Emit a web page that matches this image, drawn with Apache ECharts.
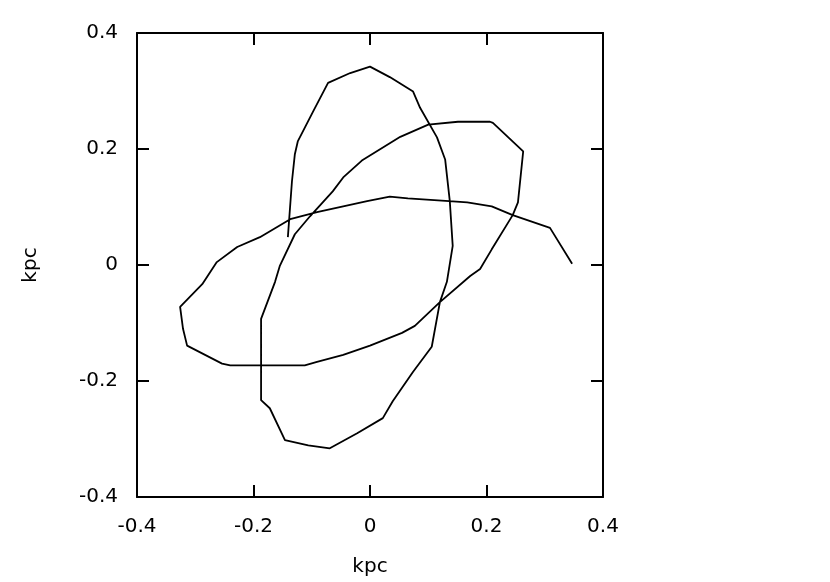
<!DOCTYPE html>
<html>
<head>
<meta charset="utf-8">
<script src="https://cdn.jsdelivr.net/npm/echarts@6/dist/echarts.min.js"></script>
<style>
  html, body { margin: 0; padding: 0; background: #fff; }
  #chart { width: 830px; height: 582px; }
</style>
</head>
<body>
<div id="chart"></div>
<script>
// orbit in kpc, traced along the path
const orbitX = [0.347, 0.309, 0.245, 0.209, 0.167, 0.136, 0.065, 0.034, -0.005, -0.046,
  -0.091, -0.137, -0.189, -0.228, -0.263, -0.288, -0.326, -0.321, -0.314, -0.254,
  -0.240, -0.112, -0.091, -0.046, 0.000, 0.055, 0.077, 0.120, 0.172, 0.189,
  0.209, 0.245, 0.254, 0.263, 0.211, 0.206, 0.151, 0.100, 0.052, -0.014,
  -0.046, -0.064, -0.103, -0.129, -0.155, -0.163, -0.187, -0.187, -0.172, -0.146,
  -0.106, -0.069, -0.022, 0.022, 0.039, 0.074, 0.106, 0.120, 0.132, 0.142,
  0.137, 0.129, 0.115, 0.086, 0.074, 0.034, 0.000, -0.034, -0.072, -0.098,
  -0.124, -0.129, -0.134, -0.141]
const orbitY = [0.002, 0.064, 0.086, 0.101, 0.108, 0.110, 0.115, 0.118, 0.110, 0.101,
  0.091, 0.079, 0.048, 0.031, 0.005, -0.033, -0.072, -0.110, -0.139, -0.170,
  -0.173, -0.173, -0.167, -0.155, -0.139, -0.117, -0.105, -0.064, -0.019, -0.007,
  0.027, 0.086, 0.108, 0.196, 0.245, 0.247, 0.247, 0.242, 0.221, 0.180,
  0.151, 0.127, 0.084, 0.053, -0.002, -0.029, -0.093, -0.233, -0.247, -0.302,
  -0.311, -0.316, -0.290, -0.264, -0.235, -0.184, -0.141, -0.064, -0.029, 0.033,
  0.110, 0.182, 0.220, 0.271, 0.299, 0.324, 0.342, 0.331, 0.314, 0.264,
  0.213, 0.191, 0.144, 0.048]
const axisMin = -0.4
const axisMax = 0.4
const tickStep = 0.2

const chart = echarts.init(document.getElementById('chart'))

const labelFont = { color: '#000', fontSize: 20, fontFamily: 'DejaVu Sans, sans-serif' }
const baseAxis = {
  type: 'value',
  min: axisMin,
  max: axisMax,
  interval: tickStep,
  splitLine: { show: false },
  axisLine: { show: true, onZero: false, lineStyle: { color: '#000', width: 2 } },
  axisTick: { show: true, inside: true, length: 12, lineStyle: { color: '#000', width: 2 } }
}

const option = {
  backgroundColor: '#fff',
  animation: false,
  grid: { left: 137, top: 33, right: 227, bottom: 83, containLabel: false },
  xAxis: [
    Object.assign({}, baseAxis, {
      position: 'bottom',
      name: 'kpc',
      nameLocation: 'middle',
      nameGap: 60,
      nameTextStyle: labelFont,
      axisLabel: Object.assign({ margin: 20, formatter: v => String(Math.round(v * 10) / 10) }, labelFont)
    }),
    Object.assign({}, baseAxis, { position: 'top', axisLabel: { show: false } })
  ],
  yAxis: [
    Object.assign({}, baseAxis, {
      position: 'left',
      name: 'kpc',
      nameLocation: 'middle',
      nameGap: 96,
      nameRotate: 90,
      nameTextStyle: labelFont,
      axisLabel: Object.assign({ margin: 19, formatter: v => String(Math.round(v * 10) / 10) }, labelFont)
    }),
    Object.assign({}, baseAxis, { position: 'right', axisLabel: { show: false } })
  ],
  series: [{
    type: 'line',
    xAxisIndex: 0,
    yAxisIndex: 0,
    data: orbitX.map((x, i) => [x, orbitY[i]]),
    showSymbol: false,
    symbol: 'none',
    smooth: false,
    lineStyle: { color: '#000', width: 1.8 }
  }]
}

chart.setOption(option)
</script>
</body>
</html>
